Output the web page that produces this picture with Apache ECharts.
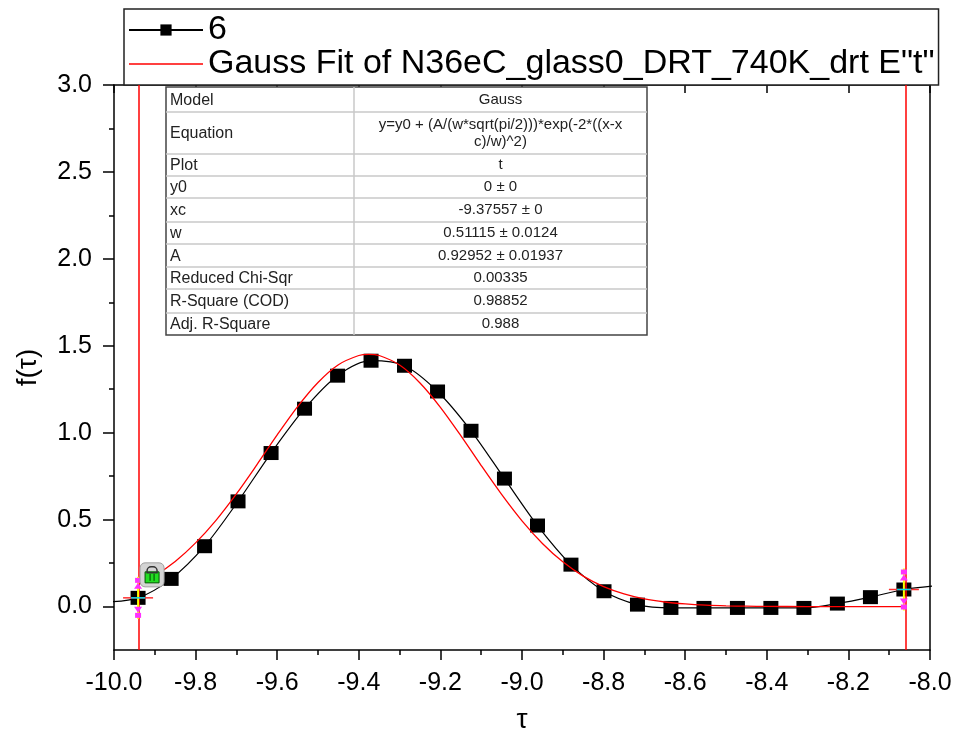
<!DOCTYPE html>
<html>
<head>
<meta charset="utf-8">
<script src="https://cdn.jsdelivr.net/npm/echarts@6/dist/echarts.min.js"></script>
<style>
html,body{margin:0;padding:0;background:#fff;}
#chart{width:954px;height:738px;}
</style>
</head>
<body>
<div id="chart"></div>
<script>
// ---------- DATA ----------
const dataName = '6';
const fitName = 'Gauss Fit of N36eC_glass0_DRT_740K_drt E"t"';
const tauData = [-10.023, -9.941, -9.860, -9.778, -9.696, -9.615, -9.533, -9.452, -9.370, -9.288, -9.207, -9.125, -9.043, -8.962, -8.880, -8.799, -8.717, -8.635, -8.554, -8.472, -8.390, -8.309, -8.227, -8.146, -8.064, -7.982];
const fData = [0.025, 0.050, 0.159, 0.347, 0.605, 0.883, 1.138, 1.328, 1.414, 1.385, 1.237, 1.011, 0.736, 0.466, 0.241, 0.088, 0.011, -0.008, -0.008, -0.008, -0.008, -0.008, 0.017, 0.054, 0.098, 0.120];
const fitTau = [-9.941, -9.90, -9.85, -9.80, -9.75, -9.70, -9.65, -9.60, -9.55, -9.50, -9.45, -9.40, -9.376, -9.35, -9.30, -9.25, -9.20, -9.15, -9.10, -9.05, -9.00, -8.95, -8.90, -8.85, -8.80, -8.75, -8.70, -8.65, -8.60, -8.55, -8.50, -8.45, -8.40, -8.30, -8.20, -8.10, -8.064];
const fitF = [0.126, 0.177, 0.259, 0.366, 0.496, 0.648, 0.815, 0.987, 1.150, 1.289, 1.391, 1.444, 1.451, 1.444, 1.389, 1.286, 1.146, 0.983, 0.811, 0.645, 0.493, 0.363, 0.257, 0.175, 0.115, 0.073, 0.044, 0.026, 0.015, 0.008, 0.004, 0.002, 0.001, 0, 0, 0, 0];
const fitRange = [-9.941, -8.064];
const yMajorTicks = [0, 0.5, 1.0, 1.5, 2.0, 2.5, 3.0];
const yMinorTicks = [0.25, 0.75, 1.25, 1.75, 2.25, 2.75];
const tableLabels = ['Model', 'Equation', 'Plot', 'y0', 'xc', 'w', 'A', 'Reduced Chi-Sqr', 'R-Square (COD)', 'Adj. R-Square'];
const tableValues = ['Gauss', 'y=y0 + (A/(w*sqrt(pi/2)))*exp(-2*((x-x\nc)/w)^2)', 't', '0 \u00b1 0', '-9.37557 \u00b1 0', '0.51115 \u00b1 0.0124', '0.92952 \u00b1 0.01937', '0.00335', '0.98852', '0.988'];

// ---------- LAYOUT ----------
const FONT = '"Liberation Sans", Arial, sans-serif';
const tableRowEdges = [87, 112, 154, 176, 198, 222, 244, 267, 289, 313, 335];
const tableLeft = 166, tableRight = 647, tableMid = 354;

const chart = echarts.init(document.getElementById('chart'));
const pairs = (xs, ys) => xs.map((x, i) => [x, ys[i]]);

const option = {
  backgroundColor: '#fff',
  animation: false,
  grid: { left: 114, right: 24, top: 85, bottom: 88, containLabel: false, outerBoundsMode: 'none' },
  legend: {
    left: 124, top: 9, orient: 'vertical',
    itemWidth: 74, itemHeight: 14, itemGap: 0,
    padding: [4, 4, 4, 4],
    borderColor: '#222', borderWidth: 1.5, backgroundColor: '#fff',
    textStyle: { fontSize: 34, fontFamily: FONT, color: '#000', lineHeight: 34 },
    data: [
      { name: dataName },
      { name: fitName, itemStyle: { color: 'rgba(0,0,0,0)', borderWidth: 0 }, lineStyle: { color: '#ff0000', width: 1.5 } }
    ]
  },
  xAxis: [
    {
      type: 'value', position: 'bottom', min: -10, max: -8, interval: 0.2,
      name: '\u03c4', nameLocation: 'middle', nameGap: 56,
      nameTextStyle: { fontSize: 28, fontFamily: FONT, color: '#000' },
      axisLine: { onZero: false, lineStyle: { color: '#000', width: 1.5 } },
      axisTick: { show: true, inside: false, length: 10, lineStyle: { color: '#000', width: 1.5 } },
      minorTick: { show: true, splitNumber: 2, length: 5, lineStyle: { color: '#000', width: 1.5 } },
      axisLabel: { fontSize: 25, fontFamily: FONT, color: '#000', margin: 21, formatter: v => v.toFixed(1) },
      splitLine: { show: false }
    },
    {
      type: 'value', position: 'top', min: -10, max: -8, interval: 0.2,
      axisLine: { onZero: false, lineStyle: { color: '#000', width: 1.5 } },
      axisTick: { show: true, inside: true, length: 8, lineStyle: { color: '#000', width: 1.5 } },
      axisLabel: { show: false },
      splitLine: { show: false }
    }
  ],
  yAxis: [
    {
      type: 'value', position: 'left', min: -0.25, max: 3.0,
      name: 'f(\u03c4)', nameLocation: 'middle', nameGap: 72, nameRotate: 90,
      nameTextStyle: { fontSize: 28, fontFamily: FONT, color: '#000' },
      axisLine: { onZero: false, lineStyle: { color: '#000', width: 1.5 } },
      axisTick: { show: true, inside: false, length: 11, customValues: yMajorTicks, lineStyle: { color: '#000', width: 1.5 } },
      axisLabel: { fontSize: 25, fontFamily: FONT, color: '#000', margin: 22, customValues: yMajorTicks, formatter: v => v.toFixed(1) },
      splitLine: { show: false }
    },
    {
      type: 'value', position: 'left', min: -0.25, max: 3.0,
      axisLine: { show: false, onZero: false },
      axisTick: { show: true, inside: false, length: 5, customValues: yMinorTicks, lineStyle: { color: '#000', width: 1.5 } },
      axisLabel: { show: false },
      splitLine: { show: false }
    },
    {
      type: 'value', position: 'right', min: -0.25, max: 3.0,
      axisLine: { show: true, onZero: false, lineStyle: { color: '#000', width: 1.5 } },
      axisTick: { show: false },
      axisLabel: { show: false },
      splitLine: { show: false }
    }
  ],
  series: [
    {
      name: dataName, type: 'line', data: pairs(tauData, fData),
      smooth: 0.3, clip: true,
      symbol: 'rect', symbolSize: [15, 14],
      itemStyle: { color: '#000' },
      lineStyle: { color: '#000', width: 1.2 },
      z: 2
    },
    {
      name: fitName, type: 'line', data: pairs(fitTau, fitF),
      smooth: 0.3, clip: true, symbol: 'none',
      itemStyle: { color: '#ff0000' },
      lineStyle: { color: '#ff0000', width: 1.3 },
      z: 3,
      markLine: {
        silent: true, symbol: 'none', label: { show: false },
        lineStyle: { color: '#ff0000', width: 1.5, type: 'solid' },
        data: fitRange.map(v => ({ xAxis: v }))
      }
    }
  ]
};
chart.setOption(option);

// ---------- TABLE + range-marker decorations ----------
const g = [];
g.push({ type: 'rect', shape: { x: tableLeft, y: tableRowEdges[0], width: tableRight - tableLeft, height: tableRowEdges[tableRowEdges.length - 1] - tableRowEdges[0] },
  style: { fill: '#fff', stroke: '#444', lineWidth: 1.5 }, z: 50 });
for (let i = 1; i < tableRowEdges.length - 1; i++) {
  g.push({ type: 'line', shape: { x1: tableLeft, y1: tableRowEdges[i], x2: tableRight, y2: tableRowEdges[i] }, style: { stroke: '#c8c8c8', lineWidth: 1.5 }, z: 51 });
}
g.push({ type: 'line', shape: { x1: tableMid, y1: tableRowEdges[0], x2: tableMid, y2: tableRowEdges[tableRowEdges.length - 1] }, style: { stroke: '#c8c8c8', lineWidth: 1.5 }, z: 51 });
tableLabels.forEach((lab, i) => {
  const cy = (tableRowEdges[i] + tableRowEdges[i + 1]) / 2;
  g.push({ type: 'text', x: tableLeft + 4, y: cy + 1, style: { text: lab, font: '16px ' + FONT, fill: '#222', verticalAlign: 'middle', align: 'left' }, z: 52 });
  g.push({ type: 'text', x: (tableMid + tableRight) / 2, y: cy, style: { text: tableValues[i], font: '15px ' + FONT, fill: '#222', verticalAlign: 'middle', align: 'center', lineHeight: 17 }, z: 52 });
});

const ends = [1, tauData.length - 2];
ends.forEach((idx, k) => {
  const p = chart.convertToPixel({ xAxisIndex: 0, yAxisIndex: 0 }, [tauData[idx], fData[idx]]);
  const x = p[0], y = p[1];
  g.push({ type: 'line', shape: { x1: x - 15, y1: y, x2: x + 15, y2: y }, style: { stroke: '#ff3030', lineWidth: 1.5 }, z: 60 });
  g.push({ type: 'line', shape: { x1: x, y1: y - 21, x2: x, y2: y + 21 }, style: { stroke: '#ffff00', lineWidth: 2 }, z: 61 });
  g.push({ type: 'line', shape: { x1: x - 7, y1: y, x2: x + 7, y2: y }, style: { stroke: '#00d8e8', lineWidth: 1.5 }, z: 62 });
  g.push({ type: 'polygon', shape: { points: [[x - 4, y - 9], [x + 4, y - 9], [x, y - 15]] }, style: { fill: '#ff30ff' }, z: 62 });
  g.push({ type: 'rect', shape: { x: x - 3, y: y - 20, width: 6, height: 5 }, style: { fill: '#ff30ff' }, z: 62 });
  g.push({ type: 'polygon', shape: { points: [[x - 4, y + 9], [x + 4, y + 9], [x, y + 15]] }, style: { fill: '#ff30ff' }, z: 62 });
  g.push({ type: 'rect', shape: { x: x - 3, y: y + 15, width: 6, height: 5 }, style: { fill: '#ff30ff' }, z: 62 });
  if (k === 0) {
    g.push({ type: 'rect', shape: { x: x + 2, y: y - 35, width: 24, height: 24, r: 5 }, style: { fill: '#d4d4d4', stroke: '#a0a0a0', lineWidth: 1 }, z: 63 });
    g.push({ type: 'rect', shape: { x: x + 7, y: y - 26, width: 14, height: 11 }, style: { fill: '#22dd22', stroke: '#005500', lineWidth: 1 }, z: 64 });
    g.push({ type: 'rect', shape: { x: x + 9, y: y - 31, width: 10, height: 6, r: [4, 4, 0, 0] }, style: { fill: 'none', stroke: '#333', lineWidth: 1.5 }, z: 64 });
    g.push({ type: 'line', shape: { x1: x + 12, y1: y - 24, x2: x + 12, y2: y - 17 }, style: { stroke: '#004400', lineWidth: 1 }, z: 65 });
    g.push({ type: 'line', shape: { x1: x + 16, y1: y - 24, x2: x + 16, y2: y - 17 }, style: { stroke: '#004400', lineWidth: 1 }, z: 65 });
  }
});
chart.setOption({ graphic: g });
</script>
</body>
</html>
